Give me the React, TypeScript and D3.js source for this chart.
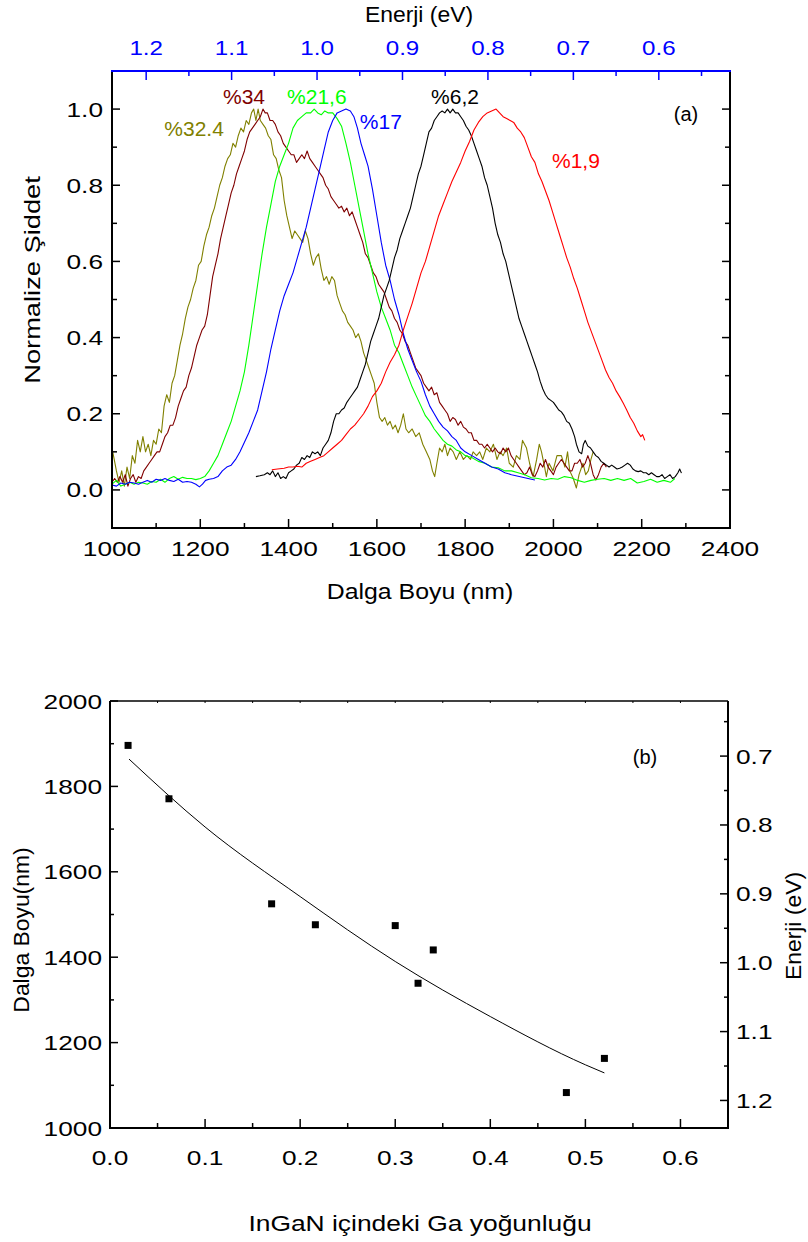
import React from "react";
import * as d3 from "d3";

const FONT = "'Liberation Sans', Arial, Helvetica, sans-serif";

// ---------- Panel (a) data: normalized PL spectra [wavelength nm, intensity] ----------
const seriesNames = ["%32.4", "%34", "%21,6", "%17", "%6,2", "%1,9"];
const seriesColors = ["#808000", "#800000", "#00ff00", "#0000ff", "#000000", "#ff0000"];

const olive324: [number, number][] = [
  [1000,0.11],[1005,0.08],[1010,0.05],[1016,0.02],[1022,0.05],[1028,0.01],[1034,0.06],[1040,0.03],[1046,0.09],[1052,0.07],
  [1058,0.13],[1064,0.10],[1070,0.14],[1076,0.10],[1082,0.12],[1088,0.09],[1094,0.13],[1100,0.12],[1106,0.16],[1112,0.15],
  [1118,0.22],[1124,0.25],[1130,0.23],[1136,0.28],[1142,0.30],[1148,0.34],[1154,0.38],[1160,0.41],[1166,0.45],[1172,0.48],
  [1178,0.50],[1184,0.53],[1190,0.55],[1196,0.59],[1202,0.60],[1208,0.64],[1214,0.67],[1220,0.69],[1226,0.72],[1232,0.74],
  [1238,0.77],[1244,0.80],[1250,0.82],[1256,0.85],[1262,0.87],[1268,0.88],[1274,0.91],[1280,0.90],[1286,0.93],[1292,0.95],
  [1298,0.94],[1304,0.97],[1310,0.96],[1316,0.99],[1321,1.0],[1326,0.97],[1331,1.0],[1336,0.97],[1342,0.96],[1348,0.95],
  [1354,0.93],[1360,0.92],[1366,0.88],[1372,0.87],[1378,0.84],[1384,0.82],[1390,0.76],[1396,0.72],[1402,0.69],[1408,0.66],
  [1414,0.68],[1420,0.67],[1426,0.66],[1432,0.65],[1438,0.68],[1444,0.66],[1450,0.62],[1456,0.59],[1462,0.61],[1468,0.62],
  [1474,0.58],[1480,0.55],[1486,0.56],[1492,0.54],[1498,0.56],[1504,0.55],[1510,0.51],[1516,0.49],[1522,0.47],[1528,0.46],
  [1534,0.44],[1540,0.43],[1546,0.42],[1552,0.40],[1558,0.41],[1564,0.39],[1570,0.36],[1576,0.34],[1582,0.32],[1588,0.30],
  [1594,0.28],[1600,0.23],[1606,0.19],[1612,0.18],[1618,0.19],[1624,0.17],[1630,0.18],[1636,0.16],[1642,0.17],[1648,0.15],
  [1654,0.17],[1660,0.20],[1666,0.16],[1672,0.15],[1680,0.16],[1688,0.14],[1696,0.15],[1704,0.12],[1712,0.10],[1720,0.08],
  [1726,0.05],[1731,0.035],[1736,0.07],[1742,0.11],[1748,0.10],[1754,0.12],[1760,0.09],[1766,0.11],[1773,0.10],[1780,0.08],
  [1788,0.10],[1796,0.08],[1804,0.09],[1812,0.08],[1818,0.10],[1826,0.09],[1833,0.10],[1840,0.08],[1848,0.11],[1856,0.10],
  [1864,0.12],[1872,0.08],[1879,0.10],[1886,0.09],[1894,0.11],[1900,0.07],[1909,0.06],[1916,0.09],[1924,0.08],[1930,0.13],
  [1939,0.11],[1946,0.07],[1954,0.035],[1962,0.08],[1968,0.12],[1973,0.10],[1980,0.06],[1984,0.035],[1990,0.07],[1999,0.05],
  [2008,0.09],[2018,0.09],[2026,0.06],[2032,0.10],[2037,0.05],[2045,0.03],[2052,0.005],[2058,0.04],[2067,0.07],[2073,0.04],
  [2079,0.05],[2085,0.08],[2090,0.10],
];

const darkred34: [number, number][] = [
  [1000,0.02],[1006,0.03],[1012,0.02],[1018,0.035],[1024,0.02],[1030,0.04],[1036,0.01],[1042,0.03],[1048,0.04],[1054,0.02],
  [1060,0.035],[1066,0.03],[1072,0.05],[1078,0.06],[1084,0.07],[1090,0.08],[1096,0.09],[1102,0.10],[1108,0.10],[1114,0.12],
  [1120,0.14],[1126,0.15],[1132,0.17],[1138,0.17],[1144,0.19],[1150,0.22],[1156,0.24],[1162,0.26],[1168,0.27],[1174,0.30],
  [1180,0.32],[1186,0.35],[1192,0.38],[1198,0.40],[1204,0.42],[1210,0.43],[1216,0.46],[1222,0.51],[1228,0.56],[1234,0.59],
  [1240,0.62],[1246,0.66],[1252,0.69],[1258,0.72],[1264,0.75],[1270,0.78],[1276,0.80],[1282,0.83],[1288,0.85],[1294,0.87],
  [1300,0.89],[1306,0.92],[1312,0.94],[1318,0.95],[1324,0.96],[1330,0.97],[1336,0.98],[1342,1.0],[1347,0.99],[1352,0.99],
  [1358,0.97],[1364,0.97],[1370,0.96],[1376,0.94],[1382,0.93],[1388,0.91],[1394,0.90],[1400,0.89],[1406,0.88],[1412,0.88],
  [1418,0.86],[1424,0.87],[1430,0.88],[1436,0.87],[1442,0.89],[1448,0.87],[1454,0.86],[1460,0.85],[1466,0.84],[1472,0.83],
  [1478,0.82],[1484,0.80],[1490,0.79],[1496,0.77],[1502,0.76],[1508,0.75],[1514,0.74],[1520,0.745],[1526,0.73],[1532,0.74],
  [1538,0.72],[1544,0.73],[1550,0.71],[1556,0.69],[1562,0.67],[1568,0.65],[1574,0.62],[1580,0.61],[1586,0.59],[1592,0.57],
  [1598,0.56],[1604,0.54],[1610,0.53],[1616,0.52],[1622,0.50],[1628,0.48],[1634,0.47],[1640,0.45],[1646,0.44],[1652,0.42],
  [1658,0.41],[1664,0.39],[1670,0.38],[1676,0.36],[1682,0.34],[1688,0.32],[1694,0.31],[1700,0.30],[1706,0.28],[1712,0.27],
  [1718,0.26],[1724,0.27],[1730,0.25],[1736,0.255],[1742,0.23],[1748,0.22],[1754,0.21],[1760,0.20],[1766,0.18],[1772,0.19],
  [1778,0.185],[1784,0.17],[1790,0.18],[1796,0.165],[1802,0.16],[1808,0.15],[1814,0.15],[1820,0.13],[1826,0.13],[1832,0.12],
  [1838,0.12],[1844,0.11],[1850,0.12],[1856,0.11],[1862,0.10],[1868,0.11],[1874,0.10],[1880,0.095],[1886,0.11],[1892,0.10],
  [1898,0.11],[1904,0.09],[1910,0.08],[1916,0.07],[1922,0.06],[1928,0.05],[1934,0.04],[1940,0.045],[1946,0.06],[1952,0.04],
  [1958,0.035],[1964,0.05],[1970,0.07],[1976,0.06],[1982,0.08],[1988,0.06],[1994,0.05],[2000,0.04],[2006,0.06],[2012,0.07],
  [2018,0.08],[2024,0.07],[2030,0.06],[2036,0.05],[2042,0.05],[2048,0.07],[2054,0.07],[2060,0.08],[2066,0.06],[2072,0.07],
  [2078,0.09],[2084,0.07],[2090,0.04],[2096,0.026],[2102,0.04],[2108,0.06],[2114,0.07],[2120,0.06],
];

const green216: [number, number][] = [
  [1000,0.015],[1010,0.025],[1020,0.01],[1030,0.015],[1040,0.02],[1050,0.015],[1060,0.02],[1070,0.018],[1080,0.015],[1090,0.022],
  [1100,0.02],[1110,0.028],[1120,0.02],[1130,0.03],[1140,0.035],[1150,0.028],[1160,0.033],[1170,0.03],[1180,0.03],[1190,0.027],
  [1200,0.03],[1210,0.035],[1220,0.05],[1230,0.07],[1240,0.09],[1250,0.12],[1260,0.15],[1270,0.18],[1280,0.22],[1290,0.26],
  [1300,0.31],[1310,0.38],[1320,0.46],[1330,0.54],[1340,0.62],[1350,0.69],[1360,0.75],[1370,0.81],[1380,0.85],[1390,0.88],
  [1400,0.91],[1410,0.95],[1420,0.97],[1430,0.98],[1440,0.99],[1450,0.99],[1458,1.0],[1466,0.99],[1474,0.985],[1482,0.995],
  [1490,0.99],[1500,0.99],[1510,0.975],[1520,0.955],[1530,0.91],[1540,0.86],[1550,0.80],[1560,0.74],[1570,0.68],[1580,0.62],
  [1590,0.57],[1600,0.52],[1610,0.48],[1620,0.45],[1630,0.42],[1640,0.38],[1650,0.36],[1660,0.33],[1670,0.30],[1680,0.27],
  [1690,0.245],[1700,0.22],[1710,0.195],[1720,0.18],[1730,0.16],[1740,0.145],[1750,0.13],[1760,0.12],[1770,0.115],[1780,0.105],
  [1790,0.10],[1800,0.09],[1815,0.085],[1830,0.075],[1845,0.07],[1860,0.06],[1875,0.058],[1890,0.05],[1905,0.05],[1920,0.045],
  [1935,0.04],[1950,0.032],[1965,0.03],[1980,0.026],[1995,0.03],[2010,0.028],[2025,0.035],[2040,0.032],[2055,0.025],[2070,0.02],
  [2085,0.025],[2100,0.028],[2115,0.03],[2130,0.025],[2145,0.03],[2160,0.025],[2175,0.03],[2190,0.018],[2205,0.022],[2220,0.028],
  [2235,0.02],[2250,0.025],[2265,0.02],[2275,0.03],
];

const blue17: [number, number][] = [
  [1000,0.013],[1010,0.01],[1020,0.018],[1030,0.015],[1040,0.02],[1050,0.018],[1060,0.015],[1070,0.02],[1080,0.025],[1090,0.02],
  [1100,0.028],[1110,0.025],[1120,0.03],[1130,0.025],[1140,0.022],[1150,0.028],[1160,0.02],[1170,0.022],[1180,0.02],[1190,0.015],
  [1198,0.008],[1205,0.015],[1212,0.025],[1220,0.028],[1230,0.03],[1240,0.035],[1250,0.05],[1260,0.06],[1270,0.065],[1280,0.08],
  [1290,0.10],[1300,0.125],[1310,0.15],[1320,0.18],[1330,0.21],[1340,0.26],[1350,0.31],[1360,0.37],[1370,0.42],[1380,0.47],
  [1390,0.51],[1400,0.54],[1410,0.57],[1420,0.61],[1430,0.65],[1440,0.69],[1450,0.74],[1460,0.79],[1470,0.84],[1480,0.89],
  [1490,0.94],[1500,0.97],[1510,0.99],[1520,0.995],[1530,1.0],[1540,0.995],[1548,0.98],[1556,0.95],[1564,0.91],[1572,0.88],
  [1580,0.85],[1590,0.79],[1600,0.72],[1610,0.65],[1620,0.59],[1630,0.55],[1640,0.50],[1650,0.46],[1660,0.41],[1670,0.37],
  [1680,0.34],[1690,0.31],[1700,0.285],[1710,0.25],[1720,0.22],[1730,0.20],[1740,0.18],[1750,0.165],[1760,0.155],[1770,0.14],
  [1780,0.13],[1790,0.11],[1800,0.10],[1815,0.09],[1830,0.08],[1845,0.07],[1860,0.06],[1875,0.055],[1890,0.045],[1905,0.04],
  [1920,0.036],[1935,0.032],[1950,0.028],[1958,0.026],
];

const black62: [number, number][] = [
  [1326,0.035],[1335,0.037],[1345,0.04],[1352,0.045],[1358,0.04],[1364,0.05],[1370,0.035],[1376,0.045],[1382,0.03],[1388,0.035],
  [1394,0.03],[1400,0.045],[1406,0.05],[1412,0.055],[1418,0.065],[1424,0.07],[1430,0.085],[1436,0.08],[1442,0.09],[1448,0.085],
  [1454,0.10],[1460,0.095],[1466,0.10],[1472,0.09],[1478,0.11],[1484,0.12],[1490,0.13],[1496,0.15],[1502,0.18],[1508,0.20],
  [1514,0.20],[1520,0.21],[1526,0.215],[1532,0.23],[1538,0.24],[1544,0.25],[1550,0.26],[1556,0.27],[1562,0.29],[1568,0.31],
  [1574,0.33],[1580,0.36],[1586,0.39],[1592,0.41],[1598,0.43],[1604,0.45],[1610,0.48],[1616,0.51],[1622,0.53],[1628,0.55],
  [1634,0.58],[1640,0.61],[1646,0.63],[1652,0.66],[1658,0.68],[1664,0.70],[1670,0.72],[1676,0.74],[1682,0.77],[1688,0.80],
  [1694,0.83],[1700,0.85],[1706,0.88],[1712,0.91],[1718,0.94],[1724,0.95],[1730,0.97],[1736,0.98],[1742,0.99],[1748,0.995],
  [1754,0.99],[1760,1.0],[1766,0.99],[1772,1.0],[1778,0.99],[1784,0.99],[1790,0.98],[1796,0.97],[1802,0.955],[1808,0.945],
  [1814,0.93],[1820,0.91],[1826,0.89],[1832,0.87],[1838,0.85],[1844,0.82],[1850,0.80],[1856,0.77],[1862,0.74],[1868,0.70],
  [1874,0.67],[1880,0.65],[1886,0.62],[1892,0.60],[1898,0.57],[1904,0.54],[1910,0.51],[1916,0.48],[1922,0.45],[1928,0.43],
  [1934,0.41],[1940,0.39],[1946,0.37],[1952,0.35],[1958,0.33],[1964,0.31],[1970,0.285],[1976,0.265],[1982,0.25],[1988,0.24],
  [1994,0.235],[2000,0.23],[2006,0.22],[2012,0.21],[2018,0.205],[2024,0.195],[2030,0.18],[2036,0.175],[2042,0.16],[2048,0.14],
  [2052,0.12],[2058,0.10],[2064,0.095],[2068,0.12],[2072,0.13],[2078,0.115],[2084,0.11],[2090,0.10],[2096,0.09],[2102,0.085],
  [2108,0.075],[2114,0.07],[2120,0.065],[2126,0.06],[2132,0.065],[2138,0.06],[2144,0.055],[2150,0.057],[2156,0.06],[2162,0.065],
  [2168,0.07],[2174,0.065],[2180,0.055],[2186,0.05],[2192,0.048],[2198,0.05],[2204,0.045],[2210,0.045],[2216,0.04],[2222,0.045],
  [2228,0.04],[2234,0.035],[2240,0.035],[2246,0.04],[2252,0.03],[2258,0.035],[2264,0.04],[2270,0.03],[2276,0.035],[2282,0.045],
  [2286,0.055],[2290,0.044],
];

const red19: [number, number][] = [
  [1362,0.053],[1375,0.055],[1390,0.057],[1400,0.06],[1410,0.06],[1420,0.062],[1430,0.06],[1440,0.07],[1450,0.075],[1460,0.08],
  [1470,0.085],[1480,0.09],[1490,0.10],[1500,0.11],[1510,0.12],[1520,0.13],[1530,0.145],[1540,0.16],[1550,0.17],[1560,0.185],
  [1570,0.20],[1580,0.22],[1590,0.245],[1600,0.26],[1610,0.28],[1620,0.31],[1630,0.335],[1640,0.355],[1650,0.38],[1660,0.42],
  [1670,0.455],[1680,0.49],[1690,0.53],[1700,0.57],[1710,0.60],[1720,0.64],[1730,0.68],[1740,0.72],[1750,0.75],[1760,0.78],
  [1770,0.81],[1780,0.835],[1790,0.86],[1800,0.89],[1810,0.915],[1820,0.945],[1830,0.965],[1840,0.98],[1850,0.99],[1860,0.995],
  [1870,1.0],[1878,0.99],[1886,0.98],[1894,0.975],[1902,0.97],[1910,0.965],[1918,0.95],[1926,0.94],[1934,0.925],[1942,0.90],
  [1950,0.875],[1958,0.86],[1966,0.83],[1974,0.81],[1982,0.785],[1990,0.76],[1998,0.73],[2006,0.70],[2014,0.67],[2022,0.64],
  [2030,0.61],[2038,0.585],[2046,0.555],[2054,0.53],[2062,0.50],[2070,0.47],[2078,0.44],[2086,0.415],[2094,0.39],[2102,0.365],
  [2110,0.34],[2118,0.315],[2126,0.295],[2134,0.28],[2142,0.26],[2150,0.245],[2158,0.228],[2166,0.21],[2174,0.19],[2182,0.175],
  [2190,0.155],[2198,0.14],[2202,0.145],[2207,0.13],
];

const spectra = [olive324, darkred34, green216, blue17, black62, red19];
// label anchor [wavelength, intensity] for each series
const labelPos: [number, number][] = [[1186, 0.951], [1299, 1.035], [1464, 1.035], [1609, 0.969], [1777, 1.035], [2051, 0.867]];

const waveTicksA = [1000, 1200, 1400, 1600, 1800, 2000, 2200, 2400];
const intensTicks = [0.0, 0.2, 0.4, 0.6, 0.8, 1.0];
const energyTicksA = [1.2, 1.1, 1.0, 0.9, 0.8, 0.7, 0.6];

// ---------- Panel (b) data ----------
const gaFraction = [0.019, 0.062, 0.170, 0.216, 0.300, 0.324, 0.340, 0.480, 0.520];
const peakWavelength = [1896, 1771, 1525, 1476, 1474, 1339, 1417, 1083, 1163];
const fitX = [0.02, 0.1, 0.2, 0.3, 0.4, 0.5, 0.52];
const fitY = [1864, 1705, 1542, 1390, 1261, 1148, 1129];
const gaTicks = [0.0, 0.1, 0.2, 0.3, 0.4, 0.5, 0.6];
const waveTicksB = [1000, 1200, 1400, 1600, 1800, 2000];
const energyTicksB = [0.7, 0.8, 0.9, 1.0, 1.1, 1.2];

const f1 = d3.format(".1f");

function rangeStep(a: number, b: number, s: number): number[] {
  const out: number[] = [];
  const n = Math.round((b - a) / s);
  for (let i = 0; i <= n; i++) out.push(+(a + i * s).toFixed(6));
  return out;
}

type TProps = {
  x: number; y: number; size?: number; sx?: number; rot?: number;
  anchor?: "start" | "middle" | "end"; fill?: string; children: React.ReactNode;
};
function T({ x, y, size = 21, sx = 1, rot = 0, anchor = "middle", fill = "#000", children }: TProps) {
  return (
    <text
      transform={`translate(${x},${y}) rotate(${rot}) scale(${sx},1)`}
      fontFamily={FONT}
      fontSize={size}
      fill={fill}
      textAnchor={anchor}
    >
      {children}
    </text>
  );
}

export default function App() {
  // Panel a scales
  const xA = d3.scaleLinear().domain([1000, 2400]).range([112, 730]);
  const yA = d3.scaleLinear().domain([-0.1, 1.1]).range([528, 71]);
  const eA = d3.scaleLinear().domain([1.24, 1240 / 2400]).range([112, 730]);
  const lineA = d3.line<[number, number]>().x((d) => xA(d[0])).y((d) => yA(d[1]));

  // Panel b scales
  const xB = d3.scaleLinear().domain([0, 0.65]).range([110, 728]);
  const yB = d3.scaleLinear().domain([1000, 2000]).range([1128, 701]);
  const eB = d3.scaleLinear().domain([0.62, 1.24]).range([701, 1128]);
  const fitLine = d3
    .line<number>()
    .x((d, i) => xB(fitX[i]))
    .y((d) => yB(d))
    .curve(d3.curveMonotoneX);

  const TS = 21; // tick font size
  const TSX = 1.25; // horizontal stretch of tick labels

  const minorWaveA = rangeStep(1100, 2300, 200);
  const minorIntens = rangeStep(0.1, 0.9, 0.2);
  const minorEnergyA = rangeStep(0.55, 1.25, 0.1).filter((v) => v <= 1.24 && v >= 0.52);
  const minorGa = rangeStep(0.05, 0.65, 0.1).filter((v) => v < 0.65);
  const minorWaveB = rangeStep(1100, 1900, 200);
  const minorEnergyB = rangeStep(0.65, 1.15, 0.1);
  const topTicksB = rangeStep(0.05, 0.6, 0.05);

  return (
    <svg width={808} height={1242} style={{ position: "absolute", left: 0, top: 0, background: "#fff" }}>
      <rect x={0} y={0} width={808} height={1242} fill="#fff" />
      {/* ================= Panel (a) ================= */}
      <g>
        <g fill="none" strokeWidth={1.1} strokeLinejoin="round">
          {spectra.map((s, i) => (
            <path key={i} d={lineA(s) || ""} stroke={seriesColors[i]} />
          ))}
        </g>
        <line x1={111} y1={528} x2={731} y2={528} stroke="#000" strokeWidth={2} />
        <line x1={112} y1={71} x2={112} y2={529} stroke="#000" strokeWidth={2} />
        <line x1={730} y1={71} x2={730} y2={529} stroke="#000" strokeWidth={2} />
        <line x1={111} y1={71} x2={731} y2={71} stroke="#0000ff" strokeWidth={2} />
        {waveTicksA.map((t) => (
          <g key={"bw" + t}>
            <line x1={xA(t)} x2={xA(t)} y1={528} y2={519} stroke="#000" strokeWidth={1.5} />
            <T x={xA(t)} y={556} size={TS} sx={TSX}>{t}</T>
          </g>
        ))}
        {minorWaveA.map((t) => (
          <line key={"bm" + t} x1={xA(t)} x2={xA(t)} y1={528} y2={523} stroke="#000" strokeWidth={1.5} />
        ))}
        {intensTicks.map((t) => (
          <g key={"li" + t}>
            <line x1={112} x2={120} y1={yA(t)} y2={yA(t)} stroke="#000" strokeWidth={1.5} />
            <line x1={730} x2={722} y1={yA(t)} y2={yA(t)} stroke="#000" strokeWidth={1.5} />
            <T x={103} y={yA(t) + 7.5} size={TS} sx={TSX} anchor="end">{f1(t)}</T>
          </g>
        ))}
        {minorIntens.map((t) => (
          <g key={"lm" + t}>
            <line x1={112} x2={117} y1={yA(t)} y2={yA(t)} stroke="#000" strokeWidth={1.5} />
            <line x1={730} x2={725} y1={yA(t)} y2={yA(t)} stroke="#000" strokeWidth={1.5} />
          </g>
        ))}
        {energyTicksA.map((t) => (
          <g key={"te" + t}>
            <line x1={eA(t)} x2={eA(t)} y1={71} y2={80} stroke="#0000ff" strokeWidth={1.5} />
            <T x={eA(t)} y={55} size={TS} sx={1.15} fill="#0000ff">{f1(t)}</T>
          </g>
        ))}
        {minorEnergyA.map((t) => (
          <line key={"tm" + t} x1={eA(t)} x2={eA(t)} y1={71} y2={76} stroke="#0000ff" strokeWidth={1.5} />
        ))}
        <T x={419} y={22} size={22} sx={1.04}>Enerji (eV)</T>
        <T x={420} y={599} size={22} sx={1.13}>Dalga Boyu (nm)</T>
        <T x={40} y={280} size={22} sx={1.24} rot={-90}>Normalize Şiddet</T>
        {seriesNames.map((n, i) => (
          <T key={n} x={xA(labelPos[i][0])} y={yA(labelPos[i][1]) + 8} size={21} fill={seriesColors[i]}>{n}</T>
        ))}
        <T x={686} y={121} size={20}>(a)</T>
      </g>

      {/* ================= Panel (b) ================= */}
      <g>
        <line x1={110} y1={701} x2={728} y2={701} stroke="#000" strokeWidth={1.5} />
        <line x1={109} y1={1128} x2={729} y2={1128} stroke="#000" strokeWidth={2} />
        <line x1={110} y1={701} x2={110} y2={1129} stroke="#000" strokeWidth={2} />
        <line x1={728} y1={701} x2={728} y2={1129} stroke="#000" strokeWidth={2} />
        {topTicksB.map((t) => (
          <line key={"tb" + t} x1={xB(t)} x2={xB(t)} y1={701} y2={703} stroke="#000" strokeWidth={1} />
        ))}
        {gaTicks.map((t) => (
          <g key={"bg" + t}>
            <line x1={xB(t)} x2={xB(t)} y1={1128} y2={1119} stroke="#000" strokeWidth={1.5} />
            <T x={xB(t)} y={1165} size={TS} sx={TSX}>{f1(t)}</T>
          </g>
        ))}
        {minorGa.map((t) => (
          <line key={"bgm" + t} x1={xB(t)} x2={xB(t)} y1={1128} y2={1123} stroke="#000" strokeWidth={1.5} />
        ))}
        {waveTicksB.map((t) => (
          <g key={"lw" + t}>
            <line x1={110} x2={118} y1={yB(t)} y2={yB(t)} stroke="#000" strokeWidth={1.5} />
            <T x={102} y={yB(t) + 7.5} size={TS} sx={TSX} anchor="end">{t}</T>
          </g>
        ))}
        {minorWaveB.map((t) => (
          <line key={"lwm" + t} x1={110} x2={114} y1={yB(t)} y2={yB(t)} stroke="#000" strokeWidth={1.5} />
        ))}
        {energyTicksB.map((t) => (
          <g key={"re" + t}>
            <line x1={728} x2={720} y1={eB(t)} y2={eB(t)} stroke="#000" strokeWidth={1.5} />
            <T x={736} y={eB(t) + 7.5} size={TS} sx={TSX} anchor="start">{f1(t)}</T>
          </g>
        ))}
        {minorEnergyB.map((t) => (
          <line key={"rem" + t} x1={728} x2={724} y1={eB(t)} y2={eB(t)} stroke="#000" strokeWidth={1.5} />
        ))}
        <path d={fitLine(fitY) || ""} fill="none" stroke="#000" strokeWidth={1} />
        {gaFraction.map((g, i) => (
          <rect key={"p" + i} x={xB(g) - 3.5} y={yB(peakWavelength[i]) - 3.5} width={7} height={7} fill="#000" />
        ))}
        <T x={645} y={764} size={20}>(b)</T>
        <T x={420} y={1231} size={22} sx={1.2}>InGaN içindeki Ga yoğunluğu</T>
        <T x={29} y={930} size={22} sx={1.04} rot={-90}>Dalga Boyu(nm)</T>
        <T x={801} y={926} size={22} sx={1.04} rot={-90}>Enerji (eV)</T>
      </g>
    </svg>
  );
}
